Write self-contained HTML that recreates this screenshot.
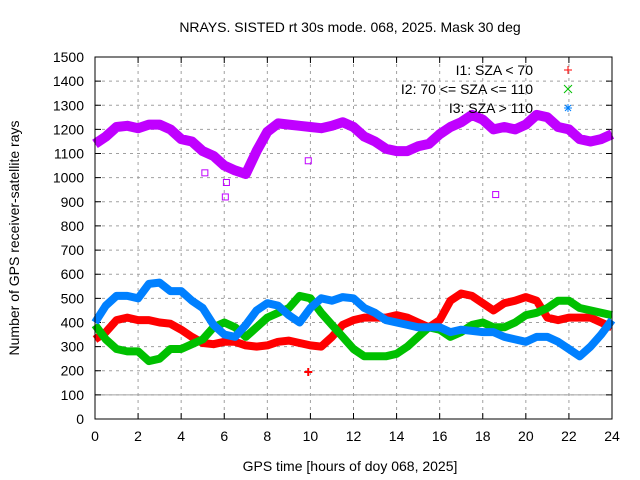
<!DOCTYPE html>
<html><head><meta charset="utf-8"><style>
body{margin:0;background:#fff}
svg{display:block;font-family:"Liberation Sans",sans-serif}
</style></head><body>
<svg id="chart" width="640" height="480" viewBox="0 0 640 480">
<rect width="640" height="480" fill="#fff"/>
<text x="350" y="32" font-size="14" text-anchor="middle">NRAYS. SISTED rt 30s mode. 068, 2025. Mask 30 deg</text>
<g id="grid"></g>
<g id="ticks"></g>
<g id="series"></g>
<rect x="95" y="57" width="517" height="362" fill="none" stroke="#000" stroke-width="1"/>
<text x="350" y="471" font-size="14" text-anchor="middle">GPS time [hours of doy 068, 2025]</text>
<text transform="translate(19,238) rotate(-90)" font-size="14" text-anchor="middle">Number of GPS receiver-satellite rays</text>
<g font-size="14">
<text x="533" y="75" text-anchor="end">I1: SZA &lt; 70</text>
<text x="533" y="94" text-anchor="end">I2: 70 &lt;= SZA &lt;= 110</text>
<text x="533" y="113" text-anchor="end">I3: SZA &gt; 110</text>
<path d="M564 70h8M568 66v8" stroke="#f00"/>
<path d="M564 85l8 8M572 85l-8 8" stroke="#00c000"/>
<path d="M564 108h8M568 104v8M565 105l6 6M571 105l-6 6" stroke="#0080ff"/>
</g>
</svg>
<script>
const hours=[0,0.5,1,1.5,2,2.5,3,3.5,4,4.5,5,5.5,6,6.5,7,7.5,8,8.5,9,9.5,10,10.5,11,11.5,12,12.5,13,13.5,14,14.5,15,15.5,16,16.5,17,17.5,18,18.5,19,19.5,20,20.5,21,21.5,22,22.5,23,23.5,24];
const allRays=[1140,1170,1210,1215,1205,1220,1220,1200,1160,1150,1110,1090,1050,1030,1015,1110,1190,1225,1220,1215,1210,1205,1215,1230,1210,1170,1150,1120,1110,1110,1130,1140,1180,1210,1230,1260,1240,1200,1210,1200,1220,1260,1250,1210,1200,1160,1150,1160,1180];
const i1=[330,360,410,420,410,410,400,395,370,340,315,310,320,320,305,300,305,320,325,315,305,300,340,390,410,420,420,420,430,420,400,380,410,490,520,510,480,450,480,490,505,490,420,410,420,420,420,400,380];
const i2=[390,330,290,280,280,240,250,290,290,310,330,380,400,380,340,380,420,440,460,510,500,440,390,340,290,260,260,260,270,300,340,380,370,340,360,390,400,380,380,400,430,440,460,490,490,460,450,440,430];
const i3=[400,470,510,510,500,560,565,530,530,490,460,390,350,340,390,450,480,470,430,400,460,500,490,505,500,460,440,410,400,390,380,380,380,360,370,365,360,360,340,330,320,340,340,320,290,260,300,350,410];
const outlierHours=[6.05,6.1,5.1,9.9,18.6];
const outlierVals=[920,980,1020,1070,930];
const yTicks=[0,100,200,300,400,500,600,700,800,900,1000,1100,1200,1300,1400,1500];
const xTicks=[0,2,4,6,8,10,12,14,16,18,20,22,24];
const X=h=>95+h*517/24, Y=v=>419-v*362/1500;
const NS='http://www.w3.org/2000/svg';
function mk(t,a,p){const e=document.createElementNS(NS,t);for(const k in a)e.setAttribute(k,a[k]);p.appendChild(e);return e;}
const grid=document.getElementById('grid'),ticks=document.getElementById('ticks'),ser=document.getElementById('series');
yTicks.forEach(v=>{
 if(v>0&&v<1500){const l=mk('line',{x1:95,x2:612,y1:Y(v),y2:Y(v),stroke:'#a0a0a0','stroke-dasharray':'3,4'},grid);
 
 }
 const t=mk('text',{x:84,y:Y(v)+5,'font-size':'14','text-anchor':'end'},ticks);t.textContent=v;
 
 
 mk('path',{d:`M95 ${Y(v)}h6M612 ${Y(v)}h-6`,stroke:'#000'},ticks);
});
xTicks.forEach(h=>{
 if(h>0&&h<24){const l=mk('line',{x1:X(h),x2:X(h),y1:57,y2:419,stroke:'#a0a0a0','stroke-dasharray':'3,4'},grid);
 
 }
 const t=mk('text',{x:X(h),y:441,'font-size':'14','text-anchor':'middle'},ticks);t.textContent=h;
 
 
 mk('path',{d:`M${X(h)} 419v-6M${X(h)} 57v6`,stroke:'#000'},ticks);
});
const hl=mk('line',{x1:95,x2:612,y1:Y(100),y2:Y(100),stroke:'#a0a0a0'},grid);


function band(vals,color,w,name){
 const d=vals.map((v,i)=>(i?'L':'M')+X(hours[i]).toFixed(1)+' '+Y(v).toFixed(1)).join('');
 const p=mk('path',{d,fill:'none',stroke:color,'stroke-width':w,'stroke-linejoin':'round','stroke-linecap':'butt'},ser);
 
 
}
band(allRays,'#c000ff',10,'series-all-rays');
band(i1,'#f00',8,'series-i1');
band(i2,'#00c000',8,'series-i2');
band(i3,'#0080ff',8,'series-i3');
outlierHours.forEach((h,i)=>{
 const r=mk('rect',{x:X(h)-3,y:Y(outlierVals[i])-3,width:6,height:6,fill:'none',stroke:'#c000ff'},ser);
 
 
});
const o=mk('path',{d:`M${X(9.9)-4} ${Y(195)}h8M${X(9.9)} ${Y(195)-4}v8`,stroke:'#f00','stroke-width':2},ser);


</script>
</body></html>
